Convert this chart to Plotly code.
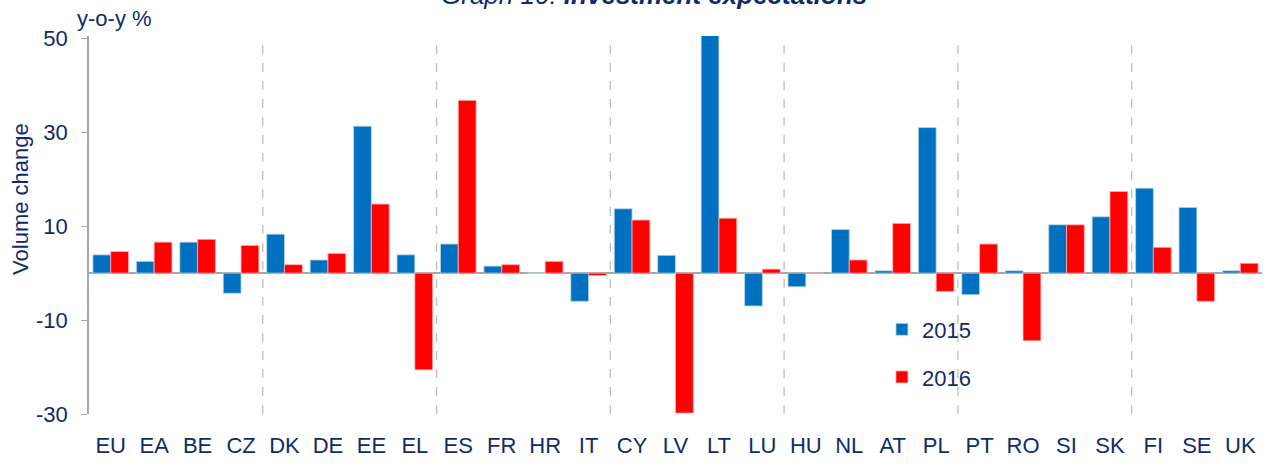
import plotly.graph_objects as go

categories = ["EU", "EA", "BE", "CZ", "DK", "DE", "EE", "EL", "ES", "FR", "HR", "IT",
              "CY", "LV", "LT", "LU", "HU", "NL", "AT", "PL", "PT", "RO", "SI", "SK",
              "FI", "SE", "UK"]
values_2015 = [3.9, 2.5, 6.6, -4.3, 8.3, 2.8, 31.3, 3.9, 6.2, 1.5, 0.0, -6.0,
               13.7, 3.8, 50.6, -7.0, -2.9, 9.3, 0.5, 31.0, -4.6, 0.5, 10.3, 12.0,
               18.1, 14.0, 0.5]
values_2016 = [4.6, 6.6, 7.2, 5.9, 1.8, 4.2, 14.7, -20.6, 36.8, 1.8, 2.5, -0.5,
               11.3, -29.8, 11.7, 0.85, 0.0, 2.8, 10.6, -3.9, 6.2, -14.4, 10.3, 17.4,
               5.5, -6.0, 2.1]
group_ends = ["CZ", "EL", "IT", "LU", "PL", "SK"]
y_ticks = [-30, -10, 10, 30, 50]
y_tick_labels = [str(v) for v in y_ticks]

NAVY = "#0F2B6B"
FONT = "Liberation Sans Narrow, Liberation Sans, Arial, sans-serif"

fig = go.Figure()
fig.add_trace(go.Bar(x=categories, y=values_2015, name="2015",
                     marker=dict(color="#0070C0", line=dict(color="#BDD7EE", width=0.8)),
                     legendgroup="a"))
fig.add_trace(go.Bar(x=categories, y=values_2016, name="2016",
                     marker=dict(color="#FF0000", line=dict(color="#FFB0B0", width=0.8)),
                     legendgroup="b"))

for c in group_ends:
    xpos = categories.index(c) + 0.5
    fig.add_shape(type="line", xref="x", yref="y", x0=xpos, x1=xpos, y0=-30, y1=50,
                  line=dict(color="#BFBFBF", width=1.3, dash="dash"), layer="below")

fig.add_annotation(text="<i>Graph 10: <b>Investment expectations</b></i>",
                   xref="paper", yref="paper", x=0.4817, y=1, yshift=24,
                   xanchor="center", yanchor="bottom", showarrow=False,
                   font=dict(family=FONT, size=26, color=NAVY))
fig.add_annotation(text="y-o-y %", xref="paper", yref="paper", x=-0.012, y=1, yshift=18,
                   xanchor="left", yanchor="middle", showarrow=False,
                   font=dict(family=FONT, size=22, color=NAVY))
fig.add_annotation(text="Volume change", xref="paper", yref="paper", x=-0.058, y=0.569,
                   xanchor="center", yanchor="middle", textangle=-90, showarrow=False,
                   font=dict(family=FONT, size=22, color=NAVY))

fig.update_layout(
    width=1271, height=466,
    margin=dict(l=89, r=9, t=36, b=52),
    paper_bgcolor="white", plot_bgcolor="white",
    barmode="group", bargap=0.18, bargroupgap=0,
    font=dict(family=FONT, color=NAVY, size=22),
    showlegend=True,
    legend=dict(x=0.676, y=0.279, xanchor="left", yanchor="top",
                bgcolor="rgba(0,0,0,0)", font=dict(size=22, color=NAVY),
                tracegroupgap=16, itemwidth=30),
    xaxis=dict(showline=False, ticks="", tickfont=dict(size=22, color=NAVY),
               showgrid=False, zeroline=False, automargin=False,
               ticklabelstandoff=16),
    yaxis=dict(range=[-30, 50.5], tickvals=y_ticks, ticktext=y_tick_labels,
               showgrid=False, automargin=False,
               showline=True, linecolor="#A6A6A6", linewidth=1.5,
               ticks="outside", ticklen=6, tickcolor="#A6A6A6",
               ticklabelstandoff=9,
               zeroline=True, zerolinecolor="#A6A6A6", zerolinewidth=2,
               tickfont=dict(size=22, color=NAVY)),
)

fig.write_html("out.html", config={"displayModeBar": False},
               post_script="document.body.style.margin='0';document.body.style.overflow='hidden';")
